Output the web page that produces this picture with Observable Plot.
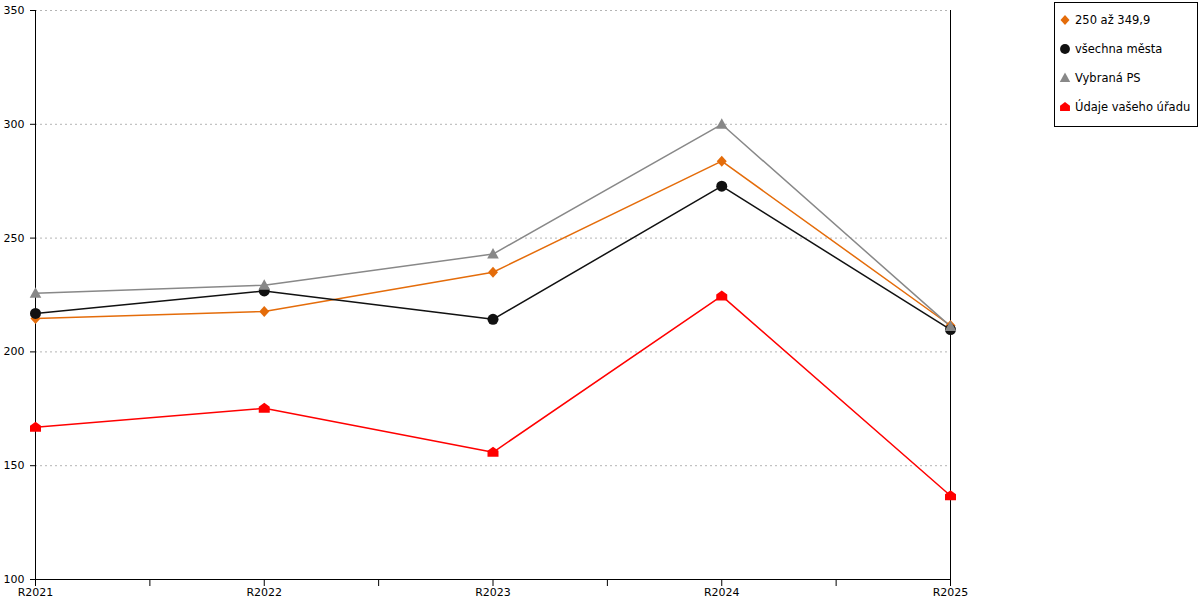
<!DOCTYPE html>
<html>
<head>
<meta charset="utf-8">
<script src="https://cdn.jsdelivr.net/npm/d3@7"></script>
<script src="https://cdn.jsdelivr.net/npm/@observablehq/plot@0.6"></script>
<style>
  body { margin: 0; background: #fff; font-family: "DejaVu Sans", Verdana, sans-serif; }
  #wrap { position: relative; width: 1200px; height: 600px; }
  #legend { position: absolute; left: 1054px; top: 2px; width: 144px; height: 125px; border: 1px solid #000; box-sizing: border-box; background: #fff; font-size: 11.5px; color: #000; }
  .item { position: absolute; left: 3px; height: 16px; display: flex; align-items: center; white-space: nowrap; }
  .item svg { margin-right: 3px; }
</style>
</head>
<body>
<div id="wrap"><div id="legend"></div></div>
<script>
const categories = ["R2021", "R2022", "R2023", "R2024", "R2025"];
const seriesNames = ["250 až 349,9", "všechna města", "Vybraná PS", "Údaje vašeho úřadu"];
const valsOrange = [214.7, 217.8, 235.0, 283.8, 211.6];
const valsBlack = [216.9, 226.8, 214.3, 272.8, 209.8];
const valsGrey = [225.8, 229.3, 243.0, 300.0, 211.2];
const valsRed = [166.9, 175.2, 155.9, 224.6, 136.8];
const yTicks = [100, 150, 200, 250, 300, 350];

const colors = ["#e46c0a", "#111111", "#888888", "#ff0000"];

const diamond = { draw(c) { c.moveTo(0, -5.5); c.lineTo(5, 0); c.lineTo(0, 5.5); c.lineTo(-5, 0); c.closePath(); } };
const circle = { draw(c) { c.moveTo(5.5, 0); c.arc(0, 0, 5.5, 0, 2 * Math.PI); c.closePath(); } };
const triangle = { draw(c) { c.moveTo(0, -6); c.lineTo(5.8, 4.5); c.lineTo(-5.8, 4.5); c.closePath(); } };
const house = { draw(c) { c.moveTo(0, -5.5); c.lineTo(5.5, -1.5); c.lineTo(5.5, 4.5); c.lineTo(-5.5, 4.5); c.lineTo(-5.5, -1.5); c.closePath(); } };
const symbols = [diamond, circle, triangle, house];

const allVals = [valsOrange, valsBlack, valsGrey, valsRed];
const data = [];
allVals.forEach((vals, s) => vals.forEach((v, i) => data.push({ i, cat: categories[i], value: v, series: seriesNames[s] })));

const xTicks = d3.range(0, categories.length - 0.5, 0.5);
const last = categories.length - 1;

const chart = Plot.plot({
  width: 1200,
  height: 600,
  marginLeft: 35,
  marginRight: 250,
  marginTop: 10,
  marginBottom: 21,
  style: { fontFamily: "DejaVu Sans, Verdana, sans-serif", fontSize: "11px", color: "#000", background: "#fff" },
  x: { type: "linear", domain: [0, last], axis: null },
  y: { domain: [yTicks[0], yTicks[yTicks.length - 1]], axis: null },
  color: { domain: seriesNames, range: colors },
  symbol: { domain: seriesNames, range: symbols },
  marks: [
    Plot.gridY(yTicks.slice(1), { stroke: "#b4b4b4", strokeOpacity: 1, strokeDasharray: "2,3" }),
    Plot.axisY(yTicks, { label: null, tickSize: 5, tickPadding: 6, fontSize: 11, stroke: "#000", tickFormat: d => String(d) }),
    Plot.axisX(xTicks, { label: null, tickSize: 7, tickPadding: 2, fontSize: 11, stroke: "#000", tickFormat: d => Number.isInteger(d) ? categories[d] : "" }),
    Plot.ruleX([0], { stroke: "#000" }),
    Plot.ruleX([last], { stroke: "#000" }),
    Plot.ruleY([yTicks[0]], { stroke: "#000" }),
    Plot.line(data, { x: "i", y: "value", z: "series", stroke: "series", strokeWidth: 1.5 }),
    Plot.dot(data, { x: "i", y: "value", fill: "series", symbol: "series", r: 5, stroke: null })
  ]
});
document.getElementById("wrap").prepend(chart);

const legend = d3.select("#legend");
seriesNames.forEach((name, k) => {
  const item = legend.append("div").attr("class", "item").style("top", (9 + k * 29) + "px");
  const svg = item.append("svg").attr("width", 14).attr("height", 14);
  svg.append("path").attr("transform", "translate(7,7) scale(0.9)").attr("d", d3.symbol(symbols[k])()).attr("fill", colors[k]);
  item.append("span").text(name);
});
</script>
</body>
</html>
